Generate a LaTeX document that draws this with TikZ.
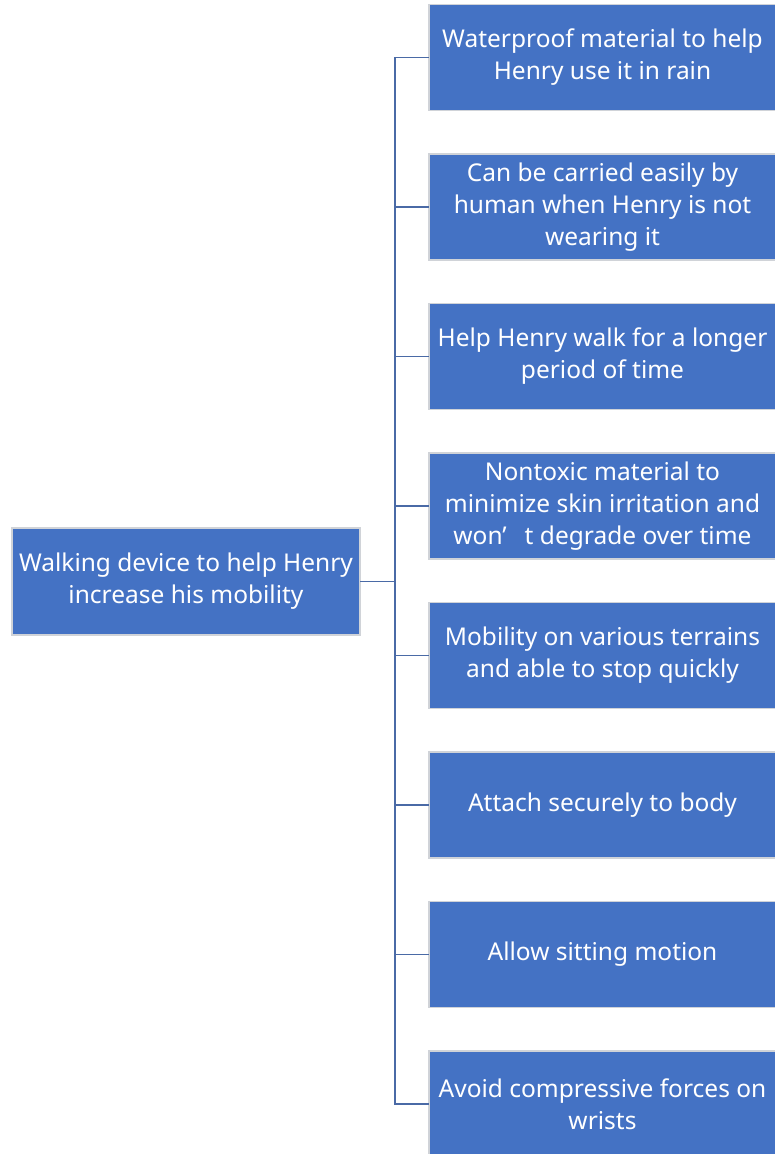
\documentclass[tikz,border=0pt]{standalone}
\usepackage{fontspec}
\setmainfont{Noto Sans}
\definecolor{boxblue}{HTML}{4472C4}
\definecolor{boxedge}{HTML}{D0D3D8}
\definecolor{linkblue}{HTML}{4A6AA6}
\tikzset{every text node part/.style={align=center}}
\tikzset{
	goalbox/.style={draw=boxedge, line width=1.2pt, fill=boxblue, text=white, inner sep=0pt,
		font=\fontsize{24.5}{32}\selectfont},
	mainbox/.style={goalbox, minimum width=348pt, minimum height=107pt},
	needbox/.style={goalbox, minimum width=347pt, minimum height=106pt},
	link/.style={draw=linkblue, line width=1.6pt}
}

\begin{document}
\begin{tikzpicture}[x=1pt, y=-1pt, line cap=rect, line join=miter]
	\useasboundingbox (0,0) rectangle (774,1154);
	
	% Root
	\node[mainbox] (main) at (186,581.5) {Walking device to help Henry\\increase his mobility};
	
	% Requirements
	\node[needbox] (r1) at (602.5,57.5) {Waterproof material to help\\Henry use it in rain};
	\node[needbox] (r2) at (602.5,207) {Can be carried easily by\\human when Henry is not\\wearing it};
	\node[needbox] (r3) at (602.5,356.5) {Help Henry walk for a longer\\period of time};
	\node[needbox] (r4) at (602.5,506) {Nontoxic material to\\minimize skin irritation and\\won’\hspace{18pt}t degrade over time};
	\node[needbox] (r5) at (602.5,655.5) {Mobility on various terrains\\and able to stop quickly};
	\node[needbox] (r6) at (602.5,805) {Attach securely to body};
	\node[needbox] (r7) at (602.5,954.5) {Allow sitting motion};
	\node[needbox] (r8) at (602.5,1104) {Avoid compressive forces on\\wrists};
	
	% Connectors
	\coordinate (trunk) at (395,581.5);
	\draw[link] (main.east) -- (trunk);
	\foreach \i in {1,...,8}
	{
		\draw[link] (trunk) |- (r\i.west);
	}
\end{tikzpicture}
\end{document}
